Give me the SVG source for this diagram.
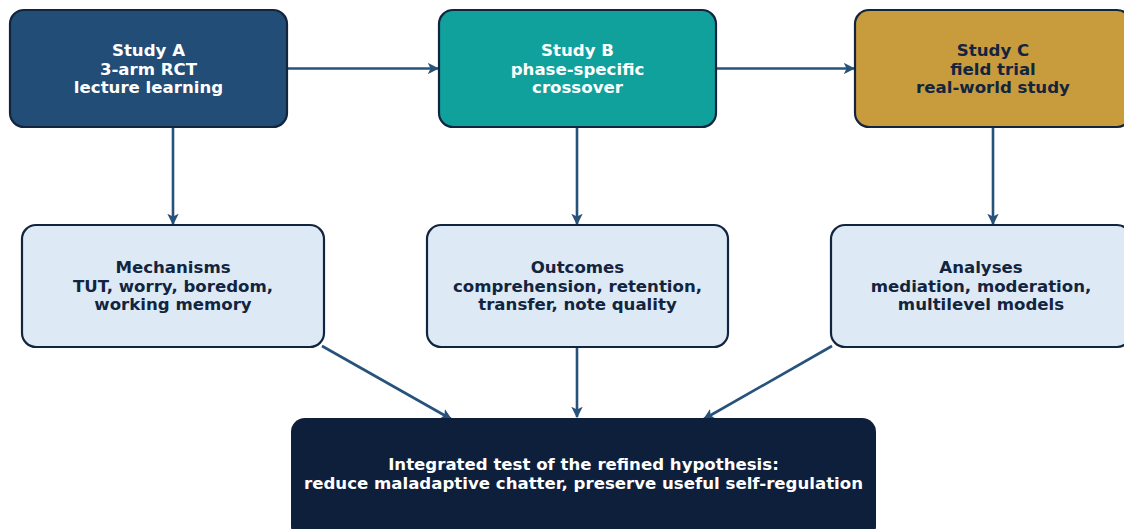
<svg xmlns="http://www.w3.org/2000/svg" width="1124" height="529" viewBox="0 0 1124 529">
  <style>
    .box { stroke: #13243f; stroke-width: 2.2; }
    .lbl { font-family: "DejaVu Sans", "Liberation Sans", sans-serif; font-weight: bold; font-size: 16.6px; text-anchor: middle; }
    .light { fill: #ffffff; }
    .dark { fill: #13243f; }
    .edge { stroke: #27527b; stroke-width: 2.6; fill: none; marker-end: url(#head); }
  </style>
  <defs>
    <marker id="head" viewBox="0 0 10 10" refX="9" refY="5" markerWidth="4.4" markerHeight="4.4" orient="auto" markerUnits="strokeWidth">
      <path d="M0,0 L10,5 L0,10 L2.5,5 Z" fill="#27527b"/>
    </marker>
  </defs>
  <rect width="1124" height="529" fill="#ffffff"/>

  <g id="connectors">
    <line class="edge" x1="288" y1="68.5" x2="438" y2="68.5"/>
    <line class="edge" x1="717" y1="68.5" x2="854" y2="68.5"/>
    <line class="edge" x1="173" y1="128" x2="173" y2="224"/>
    <line class="edge" x1="577" y1="128" x2="577" y2="224"/>
    <line class="edge" x1="993" y1="128" x2="993" y2="224"/>
    <line class="edge" x1="322" y1="346" x2="451" y2="419"/>
    <line class="edge" x1="577" y1="348" x2="577" y2="417"/>
    <line class="edge" x1="832" y1="346" x2="704" y2="419"/>
  </g>

  <g id="study-a">
    <rect class="box" x="10" y="10" width="277" height="117" rx="14" fill="#214d76"/>
    <text class="lbl light"><tspan x="148.5" y="56">Study A</tspan><tspan x="148.5" y="74.5">3-arm RCT</tspan><tspan x="148.5" y="93">lecture learning</tspan></text>
  </g>

  <g id="study-b">
    <rect class="box" x="439" y="10" width="277" height="117" rx="14" fill="#10a19d"/>
    <text class="lbl light"><tspan x="577.5" y="56">Study B</tspan><tspan x="577.5" y="74.5">phase-specific</tspan><tspan x="577.5" y="93">crossover</tspan></text>
  </g>

  <g id="study-c">
    <rect class="box" x="855" y="10" width="276" height="117" rx="14" fill="#c89b3d"/>
    <text class="lbl dark"><tspan x="993" y="56">Study C</tspan><tspan x="993" y="74.5">field trial</tspan><tspan x="993" y="93">real-world study</tspan></text>
  </g>

  <g id="mechanisms">
    <rect class="box" x="22" y="225" width="302" height="122" rx="14" fill="#ddeaf6"/>
    <text class="lbl dark"><tspan x="173" y="273">Mechanisms</tspan><tspan x="173" y="291.5">TUT, worry, boredom,</tspan><tspan x="173" y="310">working memory</tspan></text>
  </g>

  <g id="outcomes">
    <rect class="box" x="427" y="225" width="301" height="122" rx="14" fill="#ddeaf6"/>
    <text class="lbl dark"><tspan x="577.5" y="273">Outcomes</tspan><tspan x="577.5" y="291.5">comprehension, retention,</tspan><tspan x="577.5" y="310">transfer, note quality</tspan></text>
  </g>

  <g id="analyses">
    <rect class="box" x="831" y="225" width="300" height="122" rx="14" fill="#ddeaf6"/>
    <text class="lbl dark"><tspan x="981" y="273">Analyses</tspan><tspan x="981" y="291.5">mediation, moderation,</tspan><tspan x="981" y="310">multilevel models</tspan></text>
  </g>

  <g id="integrated-test">
    <rect x="291" y="418" width="585" height="122" rx="14" fill="#0e1f3b"/>
    <text class="lbl light"><tspan x="583.5" y="470">Integrated test of the refined hypothesis:</tspan><tspan x="583.5" y="489">reduce maladaptive chatter, preserve useful self-regulation</tspan></text>
  </g>
</svg>
